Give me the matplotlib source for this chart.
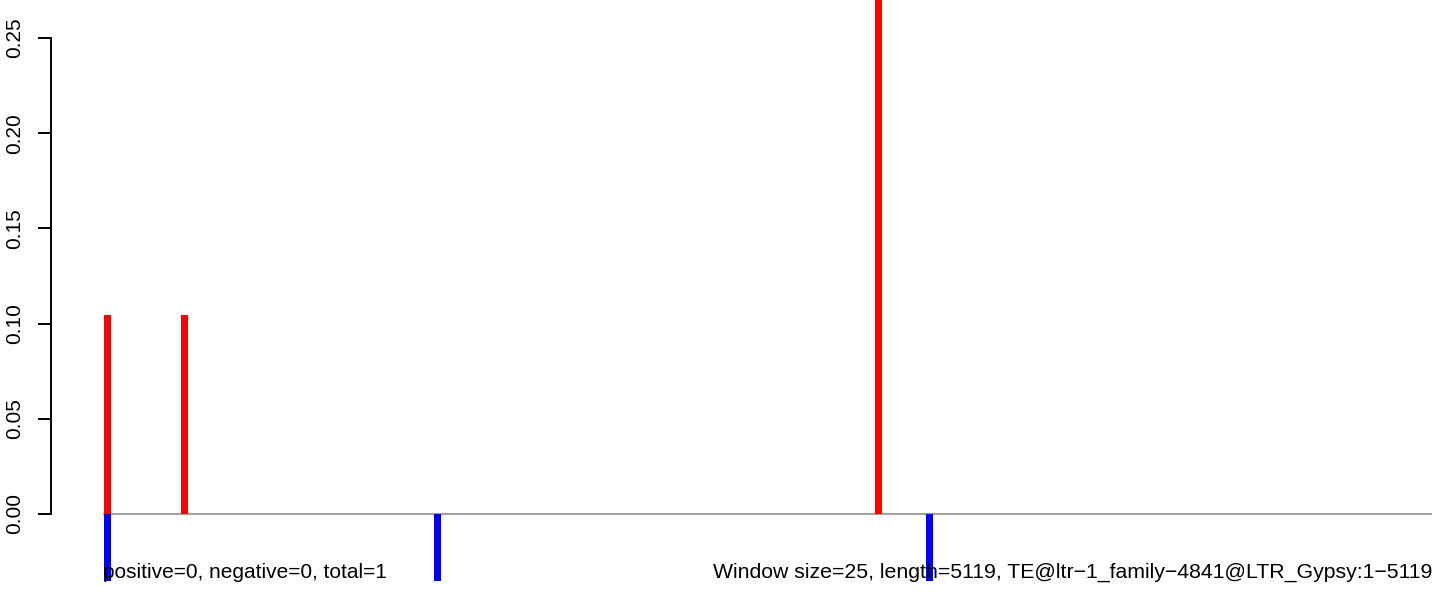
import matplotlib
matplotlib.use("Agg")
import matplotlib.pyplot as plt

# window positions (bp) and coverage values
seq_length = 5119
pos_x = [17, 313, 2987]
pos_y = [0.1045, 0.1045, 0.40]
neg_x = [17, 1288, 3184]
neg_y = [-0.035, -0.035, -0.035]
y_ticks = [0.00, 0.05, 0.10, 0.15, 0.20, 0.25]
y_labels = ["0.00", "0.05", "0.10", "0.15", "0.20", "0.25"]
left_note = "positive=0, negative=0, total=1"
right_note = "Window size=25, length=5119, TE@ltr\u22121_family\u22124841@LTR_Gypsy:1\u22125119"

plt.rcParams["font.family"] = ["Liberation Sans", "DejaVu Sans"]

fig = plt.figure(figsize=(14.44, 5.92), dpi=100)
ax = fig.add_axes([0, 0, 1, 1])

ax.set_xlim(-396.8, 5165.6)
ax.set_ylim(-0.041, 0.27)

ax.hlines(0, 0, seq_length, color="#999999", lw=1.3, zorder=1)
ax.bar(pos_x, pos_y, width=27, color="#ff0000", zorder=2)
ax.bar(neg_x, neg_y, width=27, color="#0000ff", zorder=2)

ax.text(0, -0.0335, left_note, ha="left", va="baseline", fontsize=15)
ax.text(seq_length, -0.0335, right_note, ha="right", va="baseline", fontsize=15.3)

for s in ["top", "right", "bottom"]:
    ax.spines[s].set_visible(False)
ax.spines["left"].set_position(("data", -200))
ax.spines["left"].set_bounds(0, 0.25)
ax.spines["left"].set_linewidth(1.4)
ax.set_xticks([])
ax.set_yticks(y_ticks)
ax.set_yticklabels(y_labels, rotation=90, va="center", fontsize=15)
ax.tick_params(axis="y", direction="out", length=9.5, width=1.4, pad=10)

fig.savefig("out.png", dpi=100)
